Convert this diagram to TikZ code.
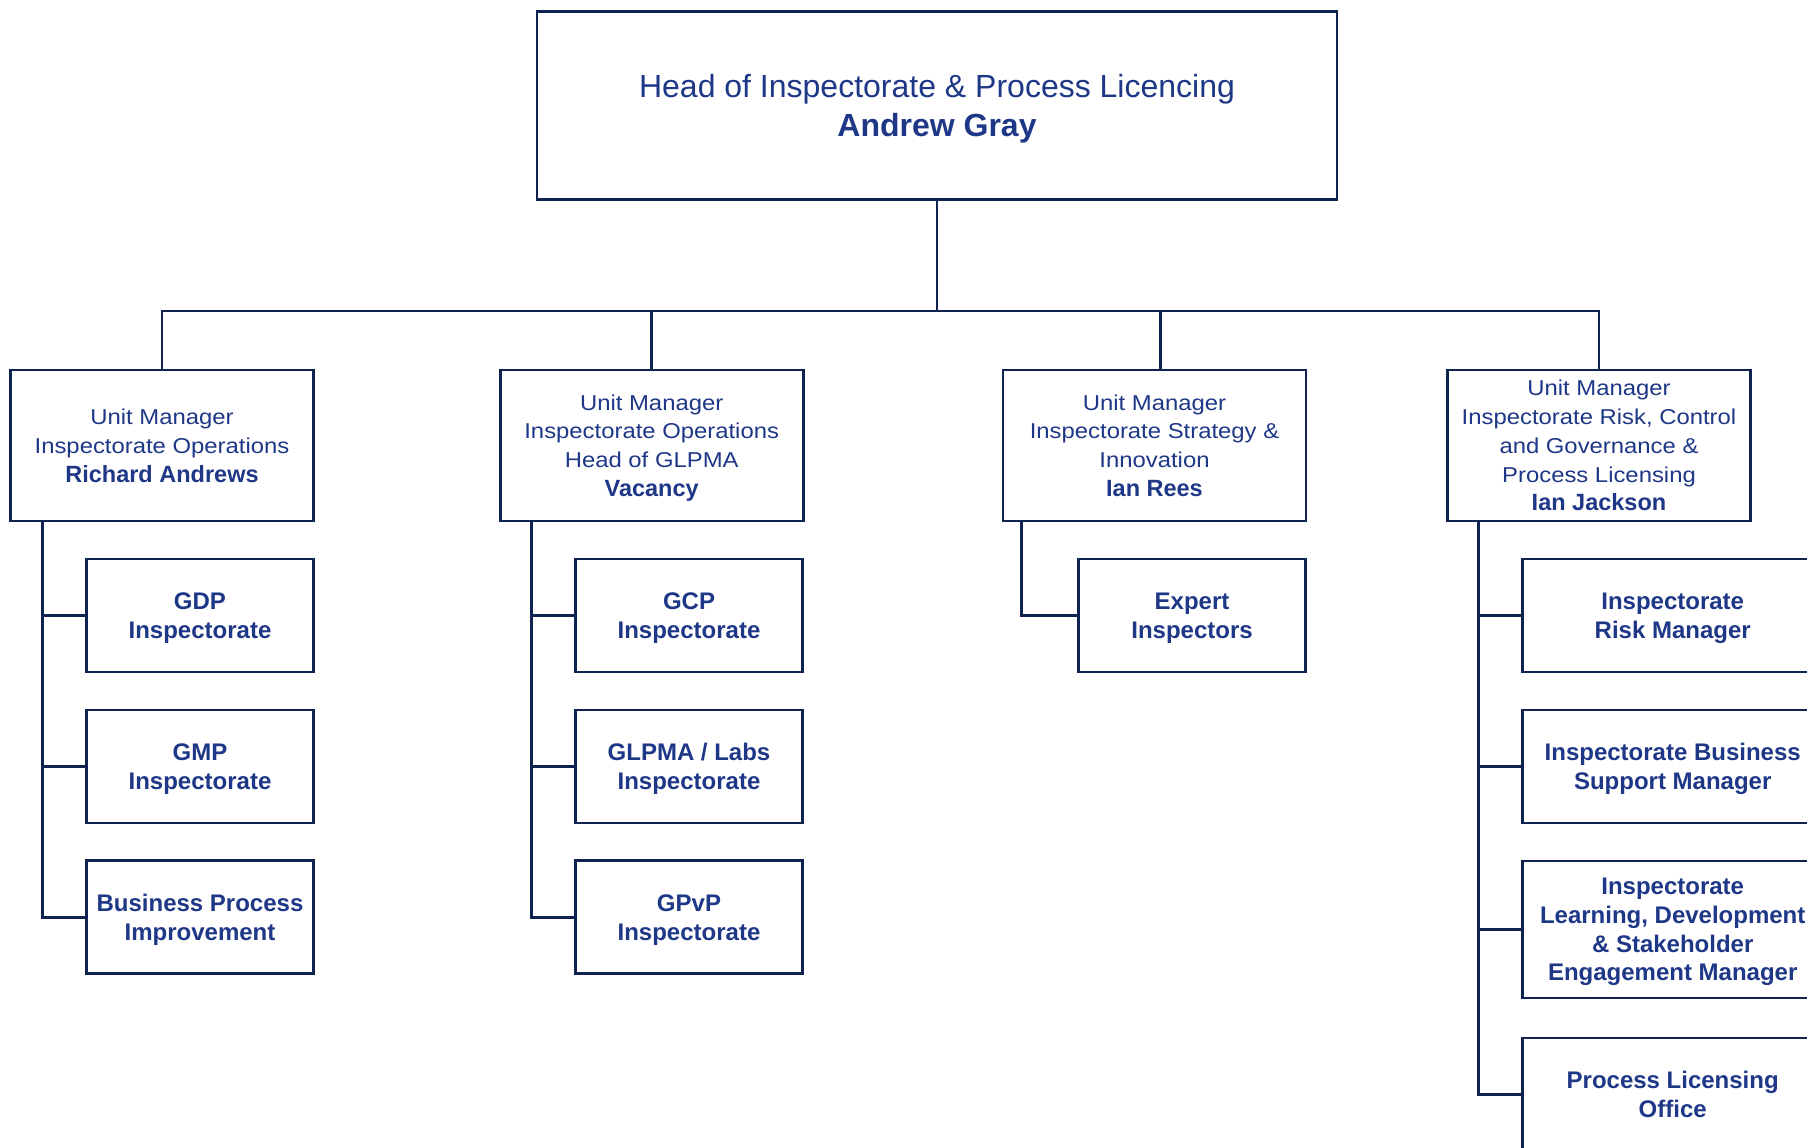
\documentclass[tikz,border=0pt]{standalone}
\usepackage{fontspec}
\setmainfont{Liberation Sans}
\newfontfamily\widefont[FakeStretch=1.11]{Liberation Sans}
\definecolor{linec}{RGB}{15,35,80}
\definecolor{textc}{RGB}{30,55,135}
\newcommand\nm[1]{{\normalfont\fontsize{23.5}{28.8}\selectfont\bfseries #1}}
\begin{document}
\begin{tikzpicture}[x=1pt,y=-1pt,
  box/.style={draw=linec,line width=2.7pt,fill=white,rectangle,inner sep=0pt,
    align=center,text=textc,text depth=0pt},
  topbox/.style={box,minimum width=800pt,minimum height=188pt,
    font=\fontsize{32}{38.5}\selectfont},
  mgrbox/.style={box,minimum width=303pt,minimum height=151pt,
    font=\fontsize{21.5}{28.8}\widefont},
  kidbox/.style={box,minimum width=227pt,minimum height=113pt,
    font=\fontsize{24}{28.8}\selectfont\bfseries},
  conn/.style={draw=linec,line width=2.8pt}]
\path[use as bounding box] (0,0) rectangle (1807,1148);
\clip (0,0) rectangle (1807,1148);

% top
\node[topbox] (top) at (937,105.5) {Head of Inspectorate \& Process Licencing\\\textbf{Andrew Gray}};

% managers
\node[mgrbox] (A) at (162,445.5) {Unit Manager\\Inspectorate Operations\\\nm{Richard Andrews}};
\node[mgrbox] (B) at (651.7,445.5) {Unit Manager\\Inspectorate Operations\\Head of GLPMA\\\nm{Vacancy}};
\node[mgrbox] (C) at (1154.5,445.5) {Unit Manager\\Inspectorate Strategy \&\\Innovation\\\nm{Ian Rees}};
\node[mgrbox] (D) at (1599,445.5) {Unit Manager\\Inspectorate Risk, Control\\and Governance \&\\Process Licensing\\\nm{Ian Jackson}};

% children A
\node[kidbox] (A1) at (200,615.4) {GDP\\Inspectorate};
\node[kidbox] (A2) at (200,766.4) {GMP\\Inspectorate};
\node[kidbox] (A3) at (200,917.3) {Business Process\\Improvement};
% children B
\node[kidbox] (B1) at (689,615.4) {GCP\\Inspectorate};
\node[kidbox] (B2) at (689,766.4) {GLPMA / Labs\\Inspectorate};
\node[kidbox] (B3) at (689,917.3) {GPvP\\Inspectorate};
% child C
\node[kidbox] (C1) at (1192,615.4) {Expert\\Inspectors};
% children D
\node[kidbox,minimum width=300pt] (D1) at (1672.7,615.4) {Inspectorate\\Risk Manager};
\node[kidbox,minimum width=300pt] (D2) at (1672.7,766.4) {Inspectorate Business\\Support Manager};
\node[kidbox,minimum width=300pt,minimum height=137pt] (D3) at (1672.7,929.4) {Inspectorate\\Learning, Development\\\& Stakeholder\\Engagement Manager};
\node[kidbox,minimum width=300pt] (D4) at (1672.7,1094.5) {Process Licensing\\Office};

% top connectors
\coordinate (bar) at (937,311);
\path[conn] (top.south) -- (bar);
\path[conn] (A.north) |- (bar) -| (D.north);
\path[conn] (B.north) -- (B.north |- bar);
\path[conn] ([xshift=6pt]C.north) -- ([xshift=6pt]C.north |- bar);

% spines
\coordinate (sA) at ([xshift=33.6pt]A.south west);
\coordinate (sB) at ([xshift=32.5pt]B.south west);
\coordinate (sC) at ([xshift=19.5pt]C.south west);
\coordinate (sD) at ([xshift=32.5pt]D.south west);

\path[conn] (sA) |- (A3.west);
\path[conn] (sA |- A1.west) -- (A1.west);
\path[conn] (sA |- A2.west) -- (A2.west);

\path[conn] (sB) |- (B3.west);
\path[conn] (sB |- B1.west) -- (B1.west);
\path[conn] (sB |- B2.west) -- (B2.west);

\path[conn] (sC) |- (C1.west);

\path[conn] (sD) |- (D4.west);
\path[conn] (sD |- D1.west) -- (D1.west);
\path[conn] (sD |- D2.west) -- (D2.west);
\path[conn] (sD |- D3.west) -- (D3.west);
\end{tikzpicture}
\end{document}
